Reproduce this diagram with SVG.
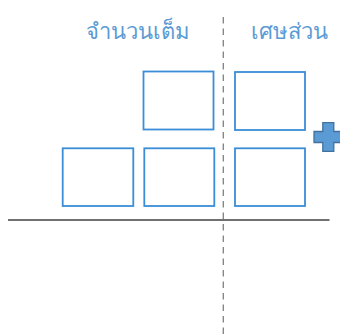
<svg xmlns="http://www.w3.org/2000/svg" width="340" height="334" viewBox="0 0 340 334">
<style>
.box{fill:#ffffff;stroke:#3a8dd6;stroke-width:1.8}
.lbl{font-family:"Noto Sans","DejaVu Sans",sans-serif;font-size:22px;fill:#5b9bd5;text-anchor:middle}
</style>
<rect width="340" height="334" fill="#ffffff"/>
<g id="connectors">
<line x1="223.3" y1="17" x2="223.3" y2="334" stroke="#808080" stroke-width="1.3" stroke-dasharray="6.5 5"/>
<line x1="8" y1="220" x2="329.5" y2="220" stroke="#404040" stroke-width="1.5"/>
</g>
<g id="label-whole"><text class="lbl" x="137.5" y="39">จำนวนเต็ม</text></g>
<g id="label-fraction"><text class="lbl" x="289" y="39">เศษส่วน</text></g>
<g id="box-top-mid"><rect class="box" x="143.5" y="71.5" width="70" height="58"/></g>
<g id="box-top-right"><rect class="box" x="235" y="72" width="70" height="58"/></g>
<g id="box-bottom-left"><rect class="box" x="62.7" y="148.3" width="70.6" height="57.7"/></g>
<g id="box-bottom-mid"><rect class="box" x="144.3" y="148.3" width="70" height="57.7"/></g>
<g id="box-bottom-right"><rect class="box" x="235" y="148.3" width="70" height="57.7"/></g>
<g id="plus"><path d="M322.8 122.7 H333.8 V131.5 H342.6 V142.5 H333.8 V151.3 H322.8 V142.5 H314 V131.5 H322.8 Z" fill="#5b9bd5" stroke="#41719c" stroke-width="1.3"/></g>
</svg>
